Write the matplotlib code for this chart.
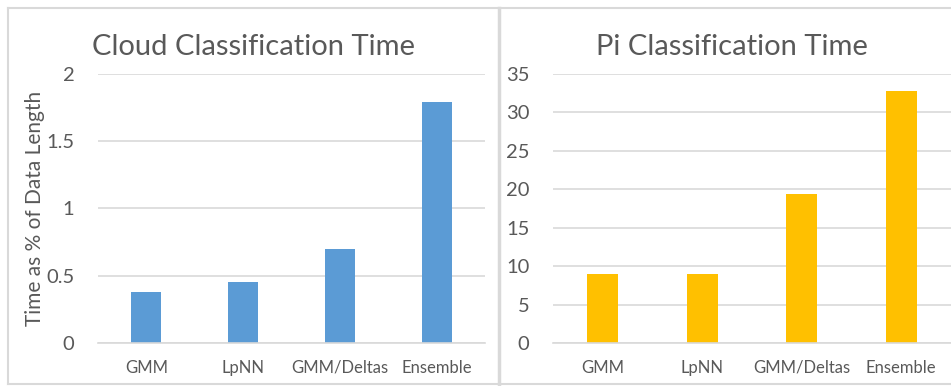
import matplotlib
matplotlib.use("Agg")
import matplotlib.pyplot as plt
from matplotlib.lines import Line2D

plt.rcParams["font.family"] = ["Lato", "DejaVu Sans"]

categories = ["GMM", "LpNN", "GMM/Deltas", "Ensemble"]
cloud_times = [0.38, 0.45, 0.70, 1.79]
pi_times = [9.0, 9.0, 19.4, 32.8]

cloud_ticks = [0, 0.5, 1, 1.5, 2]
cloud_tick_labels = ["0", "0.5", "1", "1.5", "2"]
pi_ticks = [0, 5, 10, 15, 20, 25, 30, 35]

TEXT = "#595959"
GRID = "#d9d9d9"

fig = plt.figure(figsize=(9.51, 3.86), dpi=100)

ax1 = fig.add_axes([0.103, 0.1114, 0.407, 0.6969])
ax2 = fig.add_axes([0.5815, 0.1114, 0.4185, 0.6969])


def style_axis(ax, values, color, ticks, tick_labels, ymax, title, title_x):
    x = range(len(categories))
    ax.bar(x, values, width=0.31, color=color, zorder=2)
    ax.set_xlim(-0.5, len(categories) - 0.5)
    ax.set_ylim(0, ymax)
    ax.set_yticks(ticks)
    ax.set_yticklabels(tick_labels)
    ax.set_xticks(list(x))
    ax.set_xticklabels(categories)
    ax.yaxis.grid(True, color=GRID, linewidth=1.2, zorder=0)
    ax.set_axisbelow(True)
    for side in ("top", "right", "left"):
        ax.spines[side].set_visible(False)
    ax.spines["bottom"].set_color(GRID)
    ax.spines["bottom"].set_linewidth(1.2)
    ax.tick_params(axis="both", length=0, colors=TEXT)
    ax.tick_params(axis="y", labelsize=14.5, pad=17)
    ax.tick_params(axis="x", labelsize=12, pad=12)
    # chart title is centred over the whole panel, not just the plot area
    fig.text(title_x, 1 - 47 / 386, title, fontsize=21, color=TEXT,
             ha="center", va="center")


style_axis(ax1, cloud_times, "#5b9bd5", cloud_ticks, cloud_tick_labels, 2,
           "Cloud Classification Time", 253 / 951)
style_axis(ax2, pi_times, "#ffc000", pi_ticks, [str(t) for t in pi_ticks], 35,
           "Pi Classification Time", 732 / 951)
ax1.set_ylabel("Time as % of Data Length", fontsize=15, color=TEXT, labelpad=1)

# chart frames around each panel
frame = dict(color=GRID, linewidth=1.5, transform=fig.transFigure)
fig.add_artist(Line2D([8 / 951, 1], [1 - 8 / 386] * 2, **frame))
fig.add_artist(Line2D([8 / 951, 1], [1 - 384 / 386] * 2, **frame))
fig.add_artist(Line2D([8 / 951] * 2, [1 - 8 / 386, 1 - 384 / 386], **frame))
fig.add_artist(Line2D([499.5 / 951] * 2, [1 - 8 / 386, 1 - 384 / 386],
                      color=GRID, linewidth=2.5, transform=fig.transFigure))

fig.savefig("out.png", dpi=100)
